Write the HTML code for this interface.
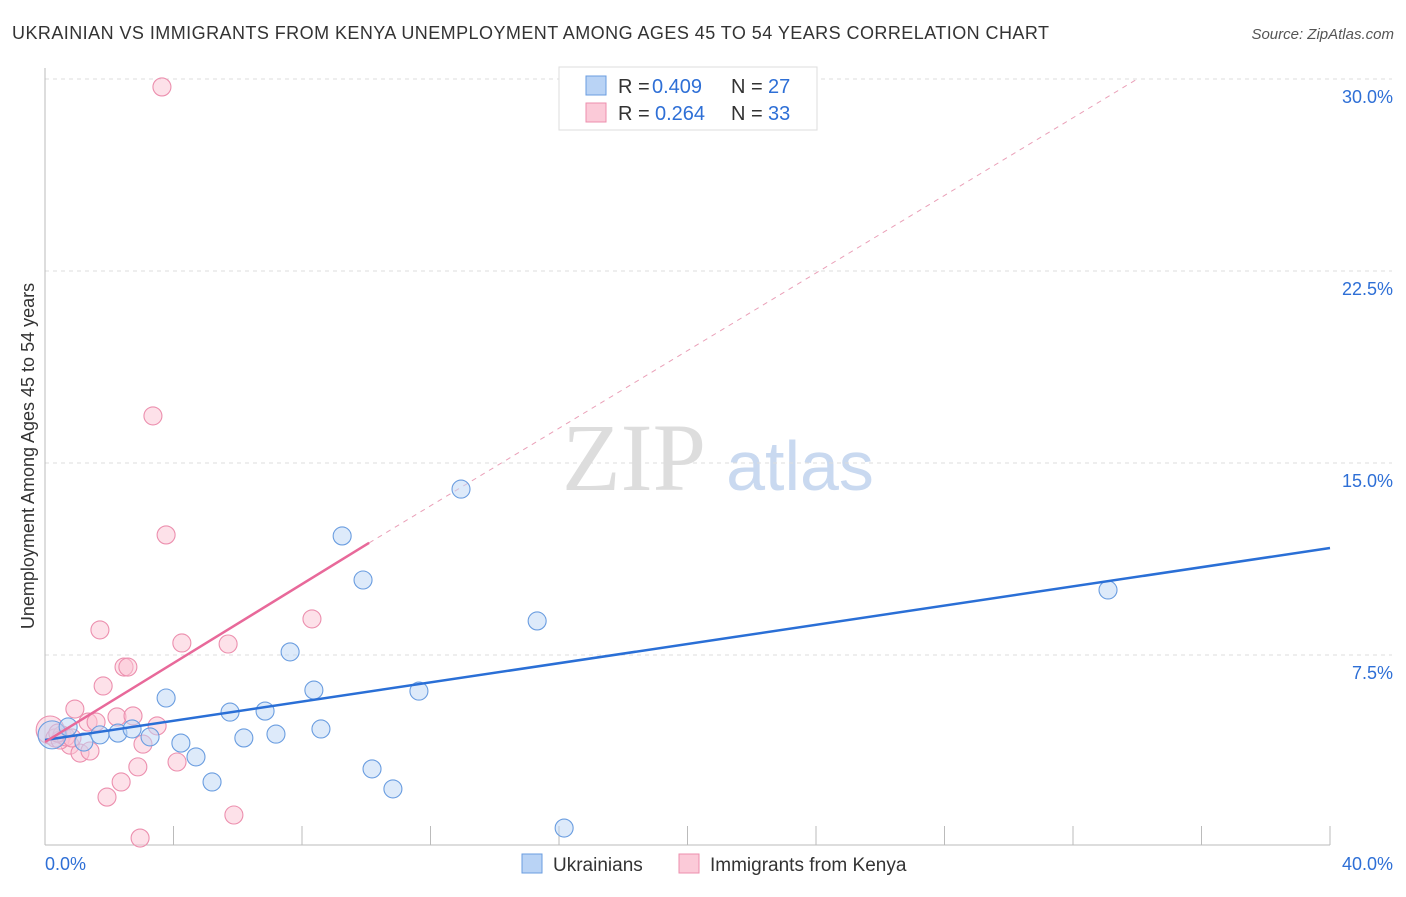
<!DOCTYPE html>
<html><head><meta charset="utf-8"><style>
body{margin:0;background:#fff;font-family:"Liberation Sans",sans-serif}
</style></head><body>
<svg width="1406" height="892" xmlns="http://www.w3.org/2000/svg" font-family="Liberation Sans, sans-serif">
<text x="12" y="39" font-size="18" fill="#333" textLength="1037">UKRAINIAN VS IMMIGRANTS FROM KENYA UNEMPLOYMENT AMONG AGES 45 TO 54 YEARS CORRELATION CHART</text>
<text x="1394" y="39" font-size="15" fill="#555" text-anchor="end" font-style="italic">Source: ZipAtlas.com</text>
<g>
<text x="634" y="490" font-size="96" fill="#ddd" text-anchor="middle" font-family="Liberation Serif, serif">ZIP</text>
<text x="800" y="490" font-size="70" fill="#c9d9f0" text-anchor="middle">atlas</text>
</g>
<g id="grid"></g>
<g id="axes"></g>
<g id="lines"></g>
<g id="pts"></g>
<text transform="translate(34,456) rotate(-90)" font-size="18" fill="#333" text-anchor="middle">Unemployment Among Ages 45 to 54 years</text>
<g>
<rect x="559" y="67" width="258" height="63" fill="#fff" stroke="#ddd"/>
<rect x="586" y="76" width="20" height="19" fill="#b9d3f5" stroke="#6a9de0"/>
<text x="618" y="93" font-size="20" fill="#333">R =</text>
<text x="652" y="93" font-size="20" fill="#2e6fd6">0.409</text>
<text x="731" y="93" font-size="20" fill="#333">N =</text>
<text x="768" y="93" font-size="20" fill="#2e6fd6">27</text>
<rect x="586" y="103" width="20" height="19" fill="#fbcad8" stroke="#ec8fae"/>
<text x="618" y="120" font-size="20" fill="#333">R =</text>
<text x="655" y="120" font-size="20" fill="#2e6fd6">0.264</text>
<text x="731" y="120" font-size="20" fill="#333">N =</text>
<text x="768" y="120" font-size="20" fill="#2e6fd6">33</text>
</g>
<g>
<rect x="522" y="854" width="20" height="19" fill="#b9d3f5" stroke="#6a9de0"/>
<text x="553" y="871" font-size="19" fill="#333">Ukrainians</text>
<rect x="679" y="854" width="20" height="19" fill="#fbcad8" stroke="#ec8fae"/>
<text x="710" y="871" font-size="19" fill="#333">Immigrants from Kenya</text>
</g>
</svg>
<script>
const yTicks=[7.5,15,22.5,30];
const yTickLabels=["7.5%","15.0%","22.5%","30.0%"];
const xTicks=[4,8,12,16,20,24,28,32,36,40];
const blueX=[0.22,0.72,1.21,1.71,2.27,2.71,3.27,3.77,4.23,4.70,5.20,5.76,6.19,6.85,7.19,7.63,8.37,8.59,9.25,9.90,10.18,10.83,11.64,12.95,15.32,16.16,33.09];
const blueY=[4.38,4.69,4.10,4.38,4.45,4.61,4.30,5.82,4.06,3.52,2.54,5.27,4.26,5.31,4.41,7.62,6.13,4.61,12.15,10.43,3.05,2.27,6.09,13.98,8.83,0.74,10.04];
const pinkX=[0.16,0.31,0.53,0.78,0.93,1.09,1.34,1.40,1.59,1.71,1.81,1.93,2.24,2.37,2.46,2.58,2.74,2.89,2.96,3.05,3.36,3.49,3.64,3.77,4.11,4.26,5.70,5.88,8.31,0.47,0.65,0.40,0.84];
const pinkY=[4.57,4.26,4.38,3.98,5.39,3.67,4.88,3.75,4.88,8.48,6.29,1.95,5.08,2.54,7.03,7.03,5.12,3.13,0.35,4.02,16.84,4.73,29.69,12.19,3.32,7.97,7.93,1.25,8.91,4.18,4.30,4.45,4.26];
const blueTrend=[[0,4.18],[40,11.68]];
const pinkTrend=[[0,4.1],[10.09,11.88]];
const pinkDash=[[10.09,11.88],[34,30]];
const X=v=>45+v/40*1285, Y=v=>847-v*25.6;
const NS="http://www.w3.org/2000/svg";
function mk(t,a,p){const e=document.createElementNS(NS,t);for(const k in a)e.setAttribute(k,a[k]);p.appendChild(e);return e;}
const grid=document.getElementById('grid'),axes=document.getElementById('axes'),lines=document.getElementById('lines'),pts=document.getElementById('pts');
yTicks.forEach((t,i)=>{
 const l=mk('line',{x1:45,x2:1392,y1:Y(t),y2:Y(t),stroke:'#ddd','stroke-dasharray':'4,4'},grid);
 
 
 const tx=mk('text',{x:1393,y:Y(t)+24,'font-size':18,fill:'#2e6fd6','text-anchor':'end'},grid);
 tx.textContent=yTickLabels[i];
 
 
});
let a=mk('line',{x1:45,x2:45,y1:68,y2:845,stroke:'#bbb'},axes);


a=mk('line',{x1:45,x2:1330,y1:845,y2:845,stroke:'#bbb'},axes);


xTicks.forEach(t=>{const l=mk('line',{x1:X(t),x2:X(t),y1:826,y2:845,stroke:'#bbb'},axes);
 
 });
let tl=mk('text',{x:45,y:870,'font-size':18,fill:'#2e6fd6'},axes);tl.textContent='0.0%';


tl=mk('text',{x:1393,y:870,'font-size':18,fill:'#2e6fd6','text-anchor':'end'},axes);tl.textContent='40.0%';


function dot(x,y,f,s,name,r){const c=mk('circle',{cx:X(x),cy:Y(y),r:r||9,fill:f,'fill-opacity':0.5,stroke:s,'stroke-width':1.1},pts);
 
 }
pinkX.forEach((x,i)=>dot(x,pinkY[i],'#fbc4d4','#ec8fae','kenya-point',i==0?14:9));
blueX.forEach((x,i)=>dot(x,blueY[i],'#bcd5f5','#6a9de0','ukrainian-point',i==0?14:9));
let ln=mk('line',{x1:X(pinkDash[0][0]),y1:Y(pinkDash[0][1]),x2:X(pinkDash[1][0]),y2:Y(pinkDash[1][1]),stroke:'#eaa0b8','stroke-dasharray':'5,5'},lines);


ln=mk('line',{x1:X(blueTrend[0][0]),y1:Y(blueTrend[0][1]),x2:X(blueTrend[1][0]),y2:Y(blueTrend[1][1]),stroke:'#2a6fd6','stroke-width':2.5},pts);


ln=mk('line',{x1:X(pinkTrend[0][0]),y1:Y(pinkTrend[0][1]),x2:X(pinkTrend[1][0]),y2:Y(pinkTrend[1][1]),stroke:'#e8699a','stroke-width':2.5},pts);


</script>
</body></html>
